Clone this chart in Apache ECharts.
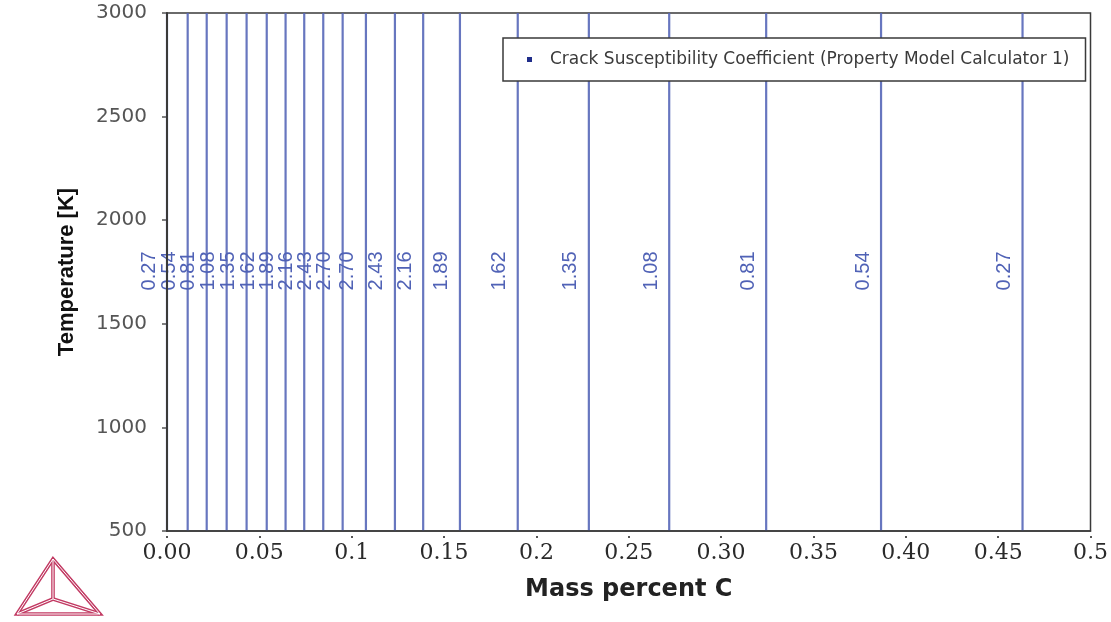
<!DOCTYPE html>
<html>
<head>
<meta charset="utf-8">
<script src="https://cdn.jsdelivr.net/npm/echarts@6/dist/echarts.min.js"></script>
<style>
  html, body { margin: 0; padding: 0; background: #ffffff; }
  #chart { width: 1111px; height: 622px; }
</style>
</head>
<body>
<div id="chart"></div>
<script>
// Iso-lines of the crack susceptibility coefficient over carbon content
const massPercentC = [0.0000, 0.0112, 0.0215, 0.0323, 0.0431, 0.0540, 0.0642, 0.0743, 0.0846, 0.0951,
                      0.1077, 0.1234, 0.1387, 0.1586, 0.1899, 0.2284, 0.2719, 0.3244, 0.3866, 0.4632];
const crackCoefficient = [0.27, 0.54, 0.81, 1.08, 1.35, 1.62, 1.89, 2.16, 2.43, 2.70,
                          2.70, 2.43, 2.16, 1.89, 1.62, 1.35, 1.08, 0.81, 0.54, 0.27];
const xTickLabels = ['0.00', '0.05', '0.1', '0.15', '0.2', '0.25', '0.30', '0.35', '0.40', '0.45', '0.5'];
const yTickLabels = ['500', '1000', '1500', '2000', '2500', '3000'];
const seriesName = 'Crack Susceptibility Coefficient (Property Model Calculator 1)';

const T_MIN = 500, T_MAX = 3000, T_STEP = 500, T_LABEL = 1755;
const X_MIN = 0, X_MAX = 0.5, X_STEP = 0.05;
const lineColor = '#5767b8';
const labelColor = '#5062b6';
const logoColor = '#c23a63';

const chart = echarts.init(document.getElementById('chart'), null, { renderer: 'canvas' });

function xLabel(v) {
  const i = Math.round((v - X_MIN) / X_STEP);
  return xTickLabels[i] !== undefined ? xTickLabels[i] : '';
}
function yLabel(v) {
  const i = Math.round((v - T_MIN) / T_STEP);
  return yTickLabels[i] !== undefined ? yTickLabels[i] : '';
}

// double-stroked line segments for the logo
function logoStroke(points, closed) {
  const shape = { points: points };
  const type = closed ? 'polygon' : 'polyline';
  return [
    { type: type, shape: shape, style: { fill: null, stroke: logoColor, lineWidth: 3.6 }, z: 10 },
    { type: type, shape: shape, style: { fill: null, stroke: '#ffffff', lineWidth: 1 }, z: 11 }
  ];
}
const A = [53, 559], B = [17, 614], C = [100, 614], O = [53, 599];

const option = {
  backgroundColor: '#ffffff',
  animation: false,
  grid: { left: 167, right: 20, top: 13, bottom: 91, show: true, borderColor: '#3a3a3a', borderWidth: 1.5, backgroundColor: '#ffffff' },
  legend: {
    left: 503, top: 38,
    orient: 'horizontal',
    padding: [13, 16, 13, 24],
    backgroundColor: '#ffffff',
    borderColor: '#3a3a3a', borderWidth: 1.5, borderRadius: 0,
    itemWidth: 5, itemHeight: 5,
    selectedMode: false,
    data: [{ name: seriesName, icon: 'rect', itemStyle: { color: '#1f2d8a' } }],
    textStyle: { color: '#3a3a3a', fontFamily: 'DejaVu Sans', fontSize: 17, padding: [0, 0, 0, 13] }
  },
  xAxis: [
    {
      type: 'value', min: X_MIN, max: X_MAX, interval: X_STEP, z: 5,
      name: 'Mass percent C', nameLocation: 'middle', nameGap: 47,
      nameTextStyle: { color: '#222222', fontFamily: 'DejaVu Sans', fontWeight: 'bold', fontSize: 24 },
      axisLine: { show: true, lineStyle: { color: '#3a3a3a', width: 1.5 } },
      axisTick: { show: false },
      splitLine: { show: false },
      axisLabel: { margin: 11, formatter: xLabel, color: '#2a2a2a', fontFamily: 'DejaVu Serif', fontSize: 22 }
    },
    {
      type: 'value', min: X_MIN, max: X_MAX, interval: X_STEP, position: 'bottom', offset: 5,
      axisLine: { show: false },
      axisTick: { show: true, length: 2, lineStyle: { color: '#555555', width: 2 } },
      axisLabel: { show: false }, splitLine: { show: false }
    }
  ],
  yAxis: [
    {
      type: 'value', min: T_MIN, max: T_MAX, interval: T_STEP, z: 5,
      name: 'Temperature [K]', nameLocation: 'middle', nameGap: 89, nameRotate: 90,
      nameTextStyle: { color: '#111111', fontFamily: 'Liberation Sans', fontWeight: 'bold', fontSize: 22 },
      axisLine: { show: true, lineStyle: { color: '#3a3a3a', width: 2 } },
      axisTick: { show: false },
      splitLine: { show: false },
      axisLabel: { margin: 20, formatter: yLabel, color: '#555555', fontFamily: 'DejaVu Sans', fontSize: 20 }
    },
    {
      type: 'value', min: T_MIN, max: T_MAX, interval: T_STEP, position: 'left', offset: 10,
      axisLine: { show: false },
      axisTick: { show: true, length: 5, lineStyle: { color: '#555555', width: 1.5 } },
      axisLabel: { show: false }, splitLine: { show: false }
    }
  ],
  series: [
    {
      name: seriesName,
      type: 'custom',
      xAxisIndex: 0, yAxisIndex: 0,
      z: 2,
      encode: { x: 0 },
      data: massPercentC.map((x, i) => [x, crackCoefficient[i]]),
      renderItem: function (params, api) {
        const x = api.value(0);
        const level = api.value(1);
        const top = api.coord([x, T_MAX]);
        const bottom = api.coord([x, T_MIN]);
        const mid = api.coord([x, T_LABEL]);
        return {
          type: 'group',
          children: [
            { type: 'line', shape: { x1: top[0], y1: top[1], x2: bottom[0], y2: bottom[1] },
              style: { stroke: lineColor, lineWidth: 2.2, opacity: 0.9 } },
            { type: 'text', x: mid[0] - 18, y: mid[1], rotation: Math.PI / 2,
              style: { text: level.toFixed(2), fill: labelColor, font: '20px "Liberation Sans"',
                       align: 'center', verticalAlign: 'middle' } }
          ]
        };
      }
    }
  ],
  graphic: [].concat(
    logoStroke([A, B, C], true),
    logoStroke([A, O], false),
    logoStroke([B, O, C], false)
  )
};

chart.setOption(option);
</script>
</body>
</html>
